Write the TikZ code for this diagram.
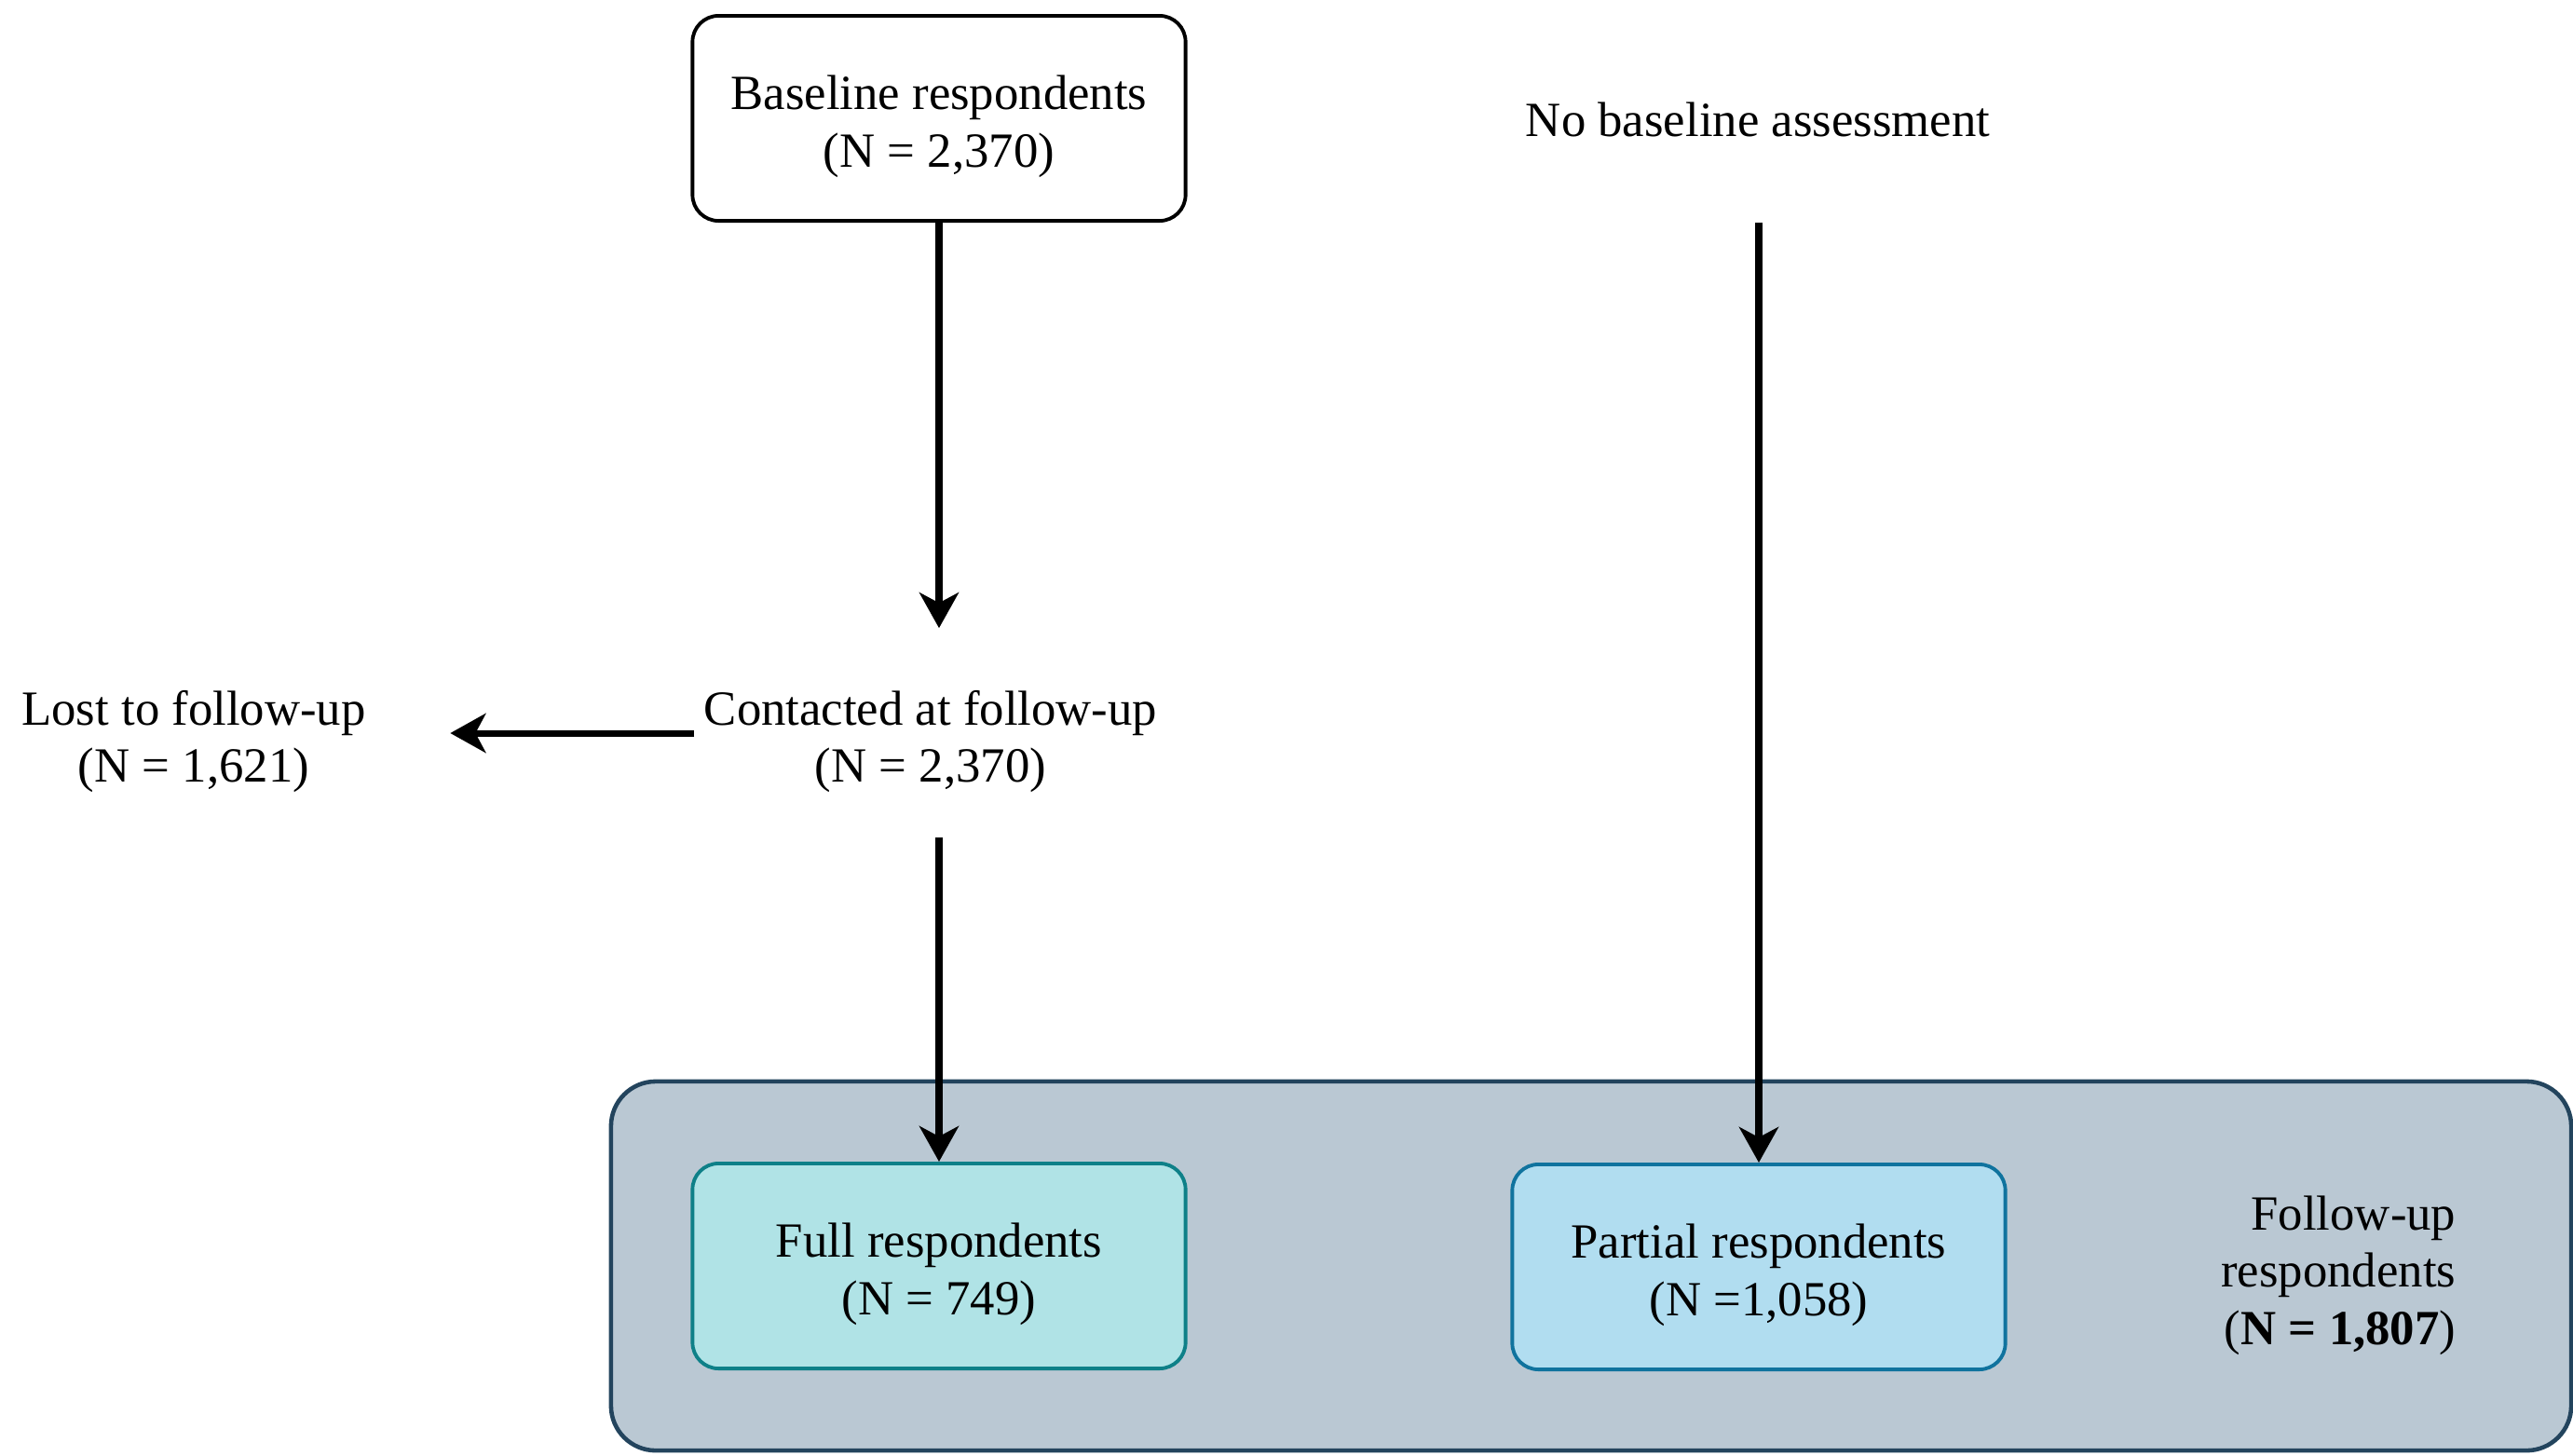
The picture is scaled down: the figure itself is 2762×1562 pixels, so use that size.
\documentclass[tikz,border=0pt]{standalone}
\usepackage{fontspec}
\setmainfont{Liberation Serif}
\usetikzlibrary{arrows.meta}
\definecolor{bigfill}{HTML}{BAC8D3}
\definecolor{bigdraw}{HTML}{23445D}
\definecolor{fullfill}{HTML}{B0E3E6}
\definecolor{fulldraw}{HTML}{0E8088}
\definecolor{partfill}{HTML}{B1DDF0}
\definecolor{partdraw}{HTML}{10739E}
\tikzset{
  txt/.style={font=\fontsize{15}{17.5}\selectfont, align=center, inner sep=0pt},
  boxnode/.style={rounded corners=0.28cm, minimum width=5.29cm, minimum height=2.2cm, line width=1.1pt, inner sep=0pt},
  arr/.style={line width=2pt, -{Stealth[length=0.38cm, width=0.42cm, inset=0.11cm]}},
}
\begin{document}
\begin{tikzpicture}[x=0.01cm, y=-0.01cm]
\useasboundingbox (0,0) rectangle (2762,1562);
% container
\node[draw=bigdraw, fill=bigfill, line width=1.3pt, rounded corners=0.48cm,
      minimum width=21.03cm, minimum height=3.96cm, inner sep=0pt] (group) at (1708,1359) {};
% boxes
\node[boxnode, draw=black, fill=white] (base) at (1008,127) {};
\node[txt] (basetxt) at (1008,136) {Baseline respondents\\(N = 2,370)};
\node[boxnode, draw=fulldraw, fill=fullfill] (full) at (1008,1359) {};
\node[txt] (fulltxt) at (1008,1368) {Full respondents\\(N = 749)};
\node[boxnode, draw=partdraw, fill=partfill] (partial) at (1888,1360) {};
\node[txt] (partialtxt) at (1888,1369) {Partial respondents\\(N =1,058)};
% free texts
\node[txt, minimum height=2.2cm] (nobase) at (1887,128) {No baseline assessment};
\node[txt, minimum height=2.42cm, inner xsep=0.1cm] (contacted) at (999,796) {Contacted at follow-up\\(N = 2,370)};
\node[txt] (lost) at (208,796) {Lost to follow-up\\(N = 1,621)};
\node[txt, align=right, anchor=east] (fu) at (2637,1369) {Follow-up\\respondents\\(\textbf{N = 1,807})};
% connectors
\draw[arr] (base.south) -- (base.south |- contacted.north);
\draw[arr, shorten >=0.9cm] ([yshift=0.09cm]contacted.west) -- ([yshift=0.09cm]contacted.west -| lost.east);
\draw[arr, shorten <=-0.19cm] (base.south |- contacted.south) -- (full.north);
\draw[arr] (partial.north |- nobase.south) -- (partial.north);
\end{tikzpicture}
\end{document}
